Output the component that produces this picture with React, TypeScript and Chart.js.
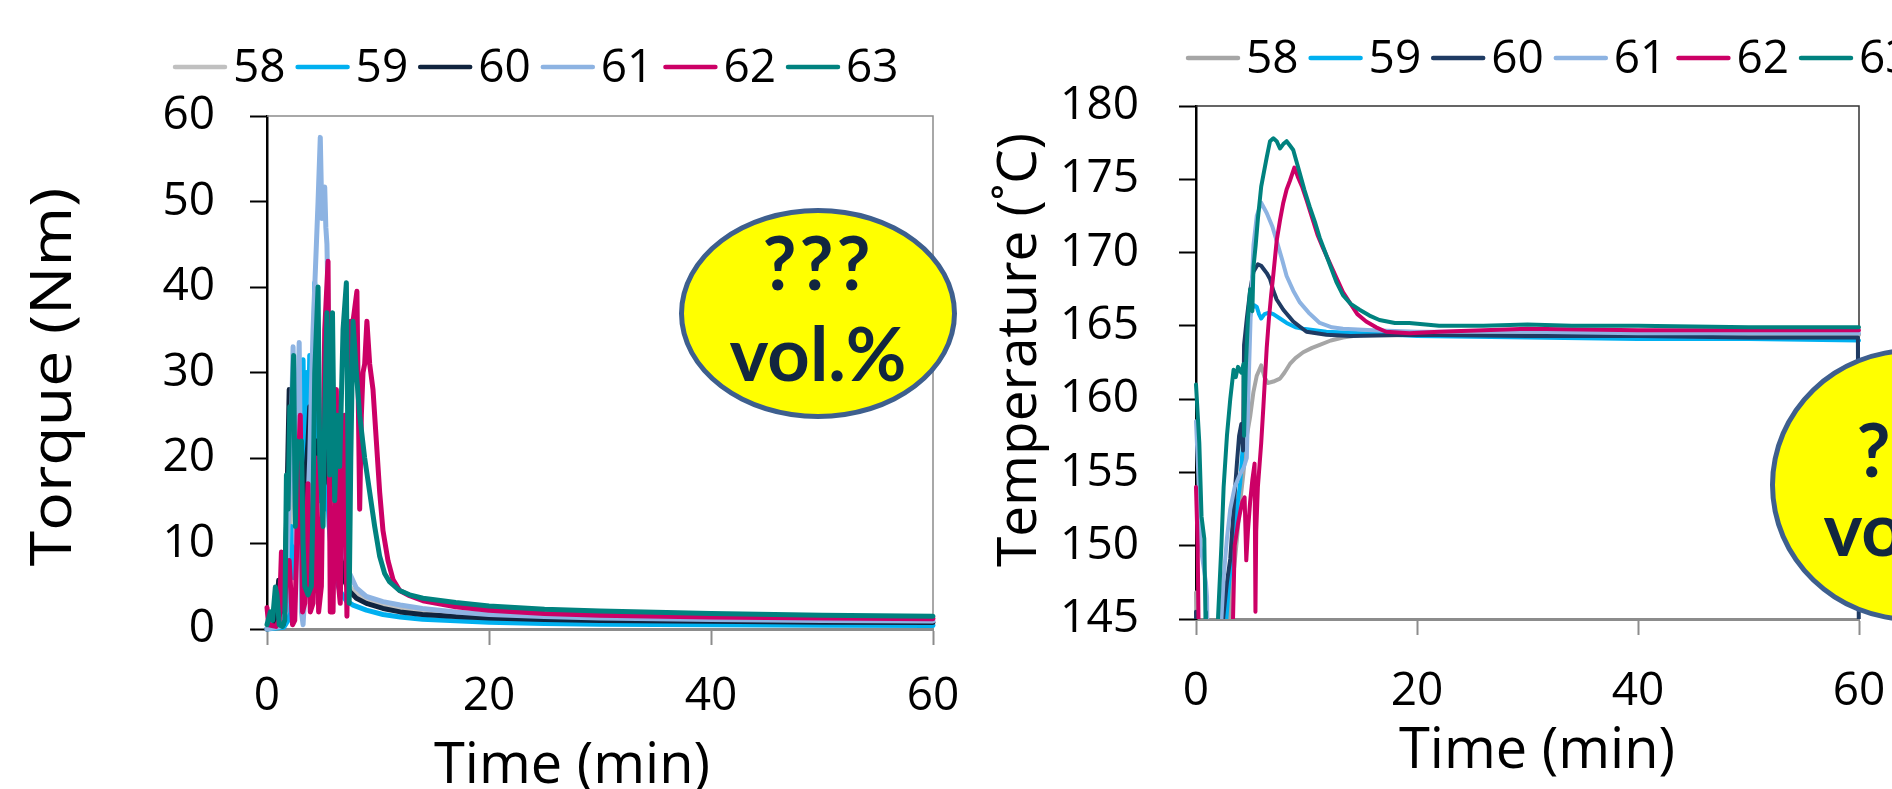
import React, { useEffect, useRef } from 'react';
import { Chart, registerables } from 'chart.js';

Chart.register(...registerables);

// ---------- data ----------
const seriesLabels = ['58', '59', '60', '61', '62', '63'];
const torqueColors = ['#c0c0c0', '#00b0f0', '#10243e', '#8db3e2', '#cc0066', '#00827f'];
const tempColors = ['#a6a6a6', '#00b0f0', '#1f3b63', '#8db3e2', '#cc0066', '#00827f'];

const timeTicks = [0, 20, 40, 60];
const torqueTicks = [0, 10, 20, 30, 40, 50, 60];
const tempTicks = [145, 150, 155, 160, 165, 170, 175, 180];

// Torque (Nm) vs time (min)
const torque58 = [[0,0],[0.9,0.3],[1.4,0.5],[1.8,4],[2.1,14],[2.4,21],[2.7,17],[3.0,20],[3.4,24],[3.8,27],[4.2,23],[4.6,25],[5.0,21],[5.5,18],[6.0,13],[6.4,9],[6.9,6.5],[7.4,5],[8.0,4.1],[9.0,3.3],[10.5,2.7],[12,2.3],[14,2.0],[17,1.6],[20,1.35],[25,1.15],[30,1.05],[40,0.9],[50,0.8],[60,0.75]];
const torque59 = [[0,0],[1.5,0.2],[1.9,1],[2.2,12],[2.4,6],[2.65,15],[2.95,28],[3.25,31.5],[3.4,12],[3.55,30],[3.7,20],[3.85,32],[4.0,31],[4.15,25],[4.3,40.5],[4.45,26],[4.7,15],[4.9,22],[5.15,14],[5.35,20],[5.6,12],[5.8,9],[6.1,6.5],[6.55,4.5],[7.15,3.3],[7.75,2.8],[8.95,2.2],[10.45,1.7],[12,1.4],[14,1.15],[17,0.95],[20,0.8],[25,0.65],[30,0.55],[40,0.5],[50,0.45],[60,0.4]];
const torque60 = [[0,0],[0.6,0.3],[0.95,4],[1.05,5.7],[1.15,1],[1.45,0.5],[1.75,12],[2.0,28],[2.2,27],[2.35,19],[2.5,24],[2.65,26],[2.8,20],[2.95,22],[3.2,14],[3.4,16.5],[3.7,22],[3.85,26],[4.0,21],[4.15,18],[4.45,22],[4.7,19],[4.9,21],[5.15,17],[5.35,22],[5.6,19],[5.8,18],[6.05,16],[6.25,14],[6.55,10],[6.85,6],[7.15,5.2],[7.45,4.4],[8.05,3.6],[8.95,3.0],[10.45,2.4],[12,2.0],[14,1.7],[17,1.45],[20,1.3],[25,1.1],[30,1.0],[40,0.9],[50,0.8],[60,0.75]];
const torque61 = [[0,0],[1.2,0.3],[1.7,2],[1.9,12],[2.1,18],[2.35,33],[2.5,20],[2.6,10],[2.75,25],[2.9,33.5],[3.0,20],[3.1,2],[3.25,0.5],[3.4,4],[3.55,10],[3.85,20],[4.0,28],[4.15,35],[4.3,40],[4.45,45],[4.6,50],[4.8,57.5],[4.95,48],[5.1,50],[5.2,51.7],[5.3,47],[5.4,45],[5.5,38],[5.65,30],[5.95,22],[6.25,18],[6.55,14],[6.85,10],[7.15,8],[7.45,6.5],[8.05,4.8],[8.95,3.8],[10.45,3.2],[12,2.8],[14,2.4],[17,2.0],[20,1.7],[25,1.45],[30,1.3],[40,1.1],[50,1.0],[60,0.95]];
const torque62 = [[0,2.5],[0.15,0.5],[0.8,0.3],[1.1,1],[1.3,9],[1.45,3],[1.6,2],[1.75,8],[1.9,7],[2.0,8],[2.3,0.5],[2.5,1],[2.65,8],[2.8,18],[3.0,25],[3.2,2],[3.4,3],[3.7,17],[3.9,2],[4.15,3],[4.45,20],[4.65,2],[4.9,5],[5.2,35],[5.5,43],[5.7,2],[5.95,2],[6.25,28],[6.45,5],[6.6,3],[6.8,20],[7.0,25],[7.2,1.5],[7.4,22],[7.55,36],[7.75,36],[8.1,39.5],[8.35,14],[8.5,25],[8.65,30],[8.8,31],[9.0,36],[9.25,31],[9.55,28],[9.85,22],[10.15,16],[10.45,11.5],[10.9,8],[11.35,5.8],[11.95,4.5],[12.85,3.9],[14.05,3.3],[17,2.6],[20,2.2],[25,1.8],[30,1.6],[40,1.4],[50,1.3],[60,1.2]];
const torque63 = [[0,0.5],[0.3,2],[0.5,1],[0.75,4.9],[0.9,4],[1.1,0.5],[1.4,0.3],[1.6,1],[1.75,18],[1.9,14],[2.05,26],[2.2,24],[2.4,32],[2.55,12],[2.7,22],[2.95,20],[3.1,22],[3.25,10],[3.4,5],[3.7,4],[4.0,5],[4.15,15],[4.3,30],[4.6,40],[4.75,20],[5.05,12],[5.2,25],[5.4,37],[5.55,25],[5.65,18],[5.9,37],[6.1,15],[6.3,25],[6.55,19],[6.85,35],[7.15,40.5],[7.3,20],[7.4,3],[7.55,20],[7.75,36],[8.05,30],[8.35,25],[8.8,20],[9.25,16],[9.7,12],[10.15,8.5],[10.6,6.5],[11.05,5.5],[11.95,4.5],[12.85,4],[14.05,3.6],[17,3.1],[20,2.7],[25,2.3],[30,2.1],[40,1.8],[50,1.6],[60,1.5]];

// Temperature (deg C) vs time (min); values below 145 lie off the axis
const temp58 = [[0,146.8],[0.1,140],[2.9,140],[3.05,145],[3.2,147.6],[3.45,148.5],[3.7,150.4],[4.0,153],[4.3,155],[4.6,157.5],[4.9,158.8],[5.2,160.5],[5.5,161.6],[5.9,162.3],[6.2,161.5],[6.5,161.1],[7.0,161.2],[7.6,161.4],[8.0,161.8],[8.5,162.4],[9.0,162.8],[9.7,163.2],[10.5,163.5],[11.2,163.7],[12.2,164.0],[13.3,164.2],[15,164.4],[18,164.5],[20,164.5],[30,164.5],[40,164.5],[60,164.4]];
const temp59 = [[0,145],[0.1,140],[2.6,140],[2.75,145],[3.0,147.5],[3.4,150.4],[3.7,152.5],[4.0,154.3],[4.3,157.5],[4.6,163.5],[4.8,165.2],[5.0,166.1],[5.3,166.4],[5.5,166.3],[5.7,165.8],[5.9,165.5],[6.2,165.8],[6.6,165.9],[7.0,165.8],[7.6,165.5],[8.2,165.2],[9.0,164.9],[9.7,164.8],[11.8,164.6],[15,164.5],[20,164.3],[30,164.2],[40,164.1],[50,164.1],[60,164.0]];
const temp60 = [[0,145.5],[0.1,140],[2.3,140],[2.45,145],[2.8,147.5],[3.1,149.1],[3.4,152.5],[3.7,155.6],[3.9,157.5],[4.1,158.3],[4.25,156.5],[4.35,163.7],[4.6,165.5],[4.9,167.4],[5.2,168.7],[5.6,169.2],[5.9,169.1],[6.1,168.9],[6.4,168.6],[6.7,168.2],[7.0,167.4],[7.3,166.8],[7.9,166.1],[8.8,165.3],[10,164.6],[11.8,164.4],[14,164.3],[20,164.4],[30,164.3],[40,164.3],[50,164.2],[59.9,164.2],[60,140]];
const temp61 = [[0,158.5],[0.2,155],[0.4,150],[0.9,147.5],[1.0,146.5],[1.1,140],[2.2,140],[2.3,145],[2.5,147.8],[2.8,150.5],[3.1,152.5],[3.5,154],[4.0,154.9],[4.3,155.3],[4.6,156],[4.8,162],[5.0,167],[5.2,170.5],[5.5,172.5],[5.9,173.4],[6.4,172.7],[6.9,171.8],[7.3,170.8],[7.8,169.5],[8.2,168.4],[8.8,167.4],[9.4,166.6],[10.2,165.9],[11.2,165.2],[12.3,164.9],[13.3,164.8],[16,164.7],[20,164.6],[30,164.6],[40,164.5],[60,164.5]];
const temp62 = [[0,154],[0.15,150],[0.3,140],[3.2,140],[3.35,145],[3.5,150],[3.8,151.5],[4.0,152.3],[4.2,153],[4.4,153.3],[4.55,149],[4.7,151],[4.9,153],[5.1,154.5],[5.3,155.6],[5.38,145.5],[5.45,151],[5.6,154],[5.9,157],[6.1,159.5],[6.4,163.5],[6.6,165.5],[6.8,167.1],[7.0,168.5],[7.3,170.8],[7.6,172.2],[7.9,173.4],[8.2,174.3],[8.5,174.9],[8.9,175.8],[9.2,175.2],[9.6,174.5],[10.0,173.6],[10.5,172.4],[11.0,171.2],[11.5,170.3],[12.1,169.3],[12.7,168.3],[13.3,167.3],[13.9,166.6],[14.6,165.8],[15.4,165.3],[16.3,164.9],[17.2,164.6],[19.3,164.5],[22,164.6],[26,164.7],[30,164.8],[40,164.7],[50,164.7],[60,164.7]];
const temp63 = [[0,161],[0.3,157],[0.5,152],[0.75,150.5],[0.85,145.5],[0.9,140],[1.9,140],[2.0,145.2],[2.3,150],[2.5,154],[2.8,157.5],[3.1,160],[3.4,162],[3.6,161.5],[3.8,162.2],[4.1,161.8],[4.3,162.4],[4.35,157.5],[4.5,162],[4.7,165.5],[4.9,167.5],[5.1,166],[5.2,169],[5.4,170.5],[5.6,172.3],[5.9,174.5],[6.1,175.3],[6.4,176.5],[6.7,177.6],[7.0,177.8],[7.3,177.6],[7.6,177.1],[7.9,177.4],[8.2,177.6],[8.5,177.3],[8.8,177],[9.1,176.2],[9.4,175.4],[9.8,174.3],[10.3,173.1],[10.8,172],[11.2,171],[11.7,170],[12.1,169.2],[12.7,168],[13.3,167.1],[14,166.5],[14.8,166.1],[15.7,165.7],[16.6,165.4],[18,165.2],[19.3,165.2],[22,165.0],[26,165.0],[30,165.1],[34,165.0],[40,165.0],[50,164.9],[60,164.9]];

const torqueSeries = [torque58, torque59, torque60, torque61, torque62, torque63];
const tempSeries = [temp58, temp59, temp60, temp61, temp62, temp63];

const FONT = '"Open Sans", "DejaVu Sans", sans-serif';

type Title = { text: string; x: number; y: number; rotate?: boolean; size: number; stretch?: number };

function makeDecor(cfg: {
  frameColor: string;
  frameWidth: number;
  legendX: number;
  legendY: number;
  titles: Title[];
}) {
  return {
    id: 'decor',
    beforeDatasetsDraw(chart: any) {
      const { ctx, chartArea: a } = chart;
      ctx.save();
      ctx.strokeStyle = cfg.frameColor;
      ctx.lineWidth = cfg.frameWidth;
      ctx.beginPath();
      ctx.moveTo(a.left, a.top);
      ctx.lineTo(a.right, a.top);
      ctx.lineTo(a.right, a.bottom);
      ctx.stroke();
      ctx.restore();
    },
    afterDraw(chart: any) {
      const ctx = chart.ctx;
      ctx.save();
      // legend
      ctx.font = `46px ${FONT}`;
      ctx.textBaseline = 'middle';
      ctx.textAlign = 'left';
      let x = cfg.legendX;
      const y = cfg.legendY;
      chart.data.datasets.forEach((ds: any) => {
        ctx.strokeStyle = ds.borderColor;
        ctx.lineWidth = 4.5;
        ctx.lineCap = 'round';
        ctx.beginPath();
        ctx.moveTo(x + 2, y);
        ctx.lineTo(x + 52, y);
        ctx.stroke();
        x += 60;
        ctx.fillStyle = '#000';
        ctx.fillText(ds.label, x, y + 2);
        x += ctx.measureText(ds.label).width + 10;
      });
      // axis titles
      cfg.titles.forEach((t) => {
        ctx.save();
        ctx.font = `${t.size}px ${FONT}`;
        ctx.fillStyle = '#000';
        ctx.textAlign = 'center';
        ctx.textBaseline = 'middle';
        ctx.translate(t.x, t.y);
        if (t.rotate) ctx.rotate(-Math.PI / 2);
        if (t.stretch) ctx.scale(t.stretch, 1);
        ctx.fillText(t.text, 0, 0);
        ctx.restore();
      });
      ctx.restore();
    },
  };
}

function buildConfig(p: {
  series: number[][][];
  colors: string[];
  lineWidth: number;
  yMin: number;
  yMax: number;
  yTicks: number[];
  yWidth: number;
  xHeight: number;
  padTop: number;
  padRight: number;
  yPad: number;
  xPad: number;
  clip: any;
  decor: any;
}) {
  const n = p.series.length;
  return {
    type: 'line',
    data: {
      datasets: p.series.map((s, i) => ({
        label: seriesLabels[i],
        data: s,
        borderColor: p.colors[i],
        backgroundColor: p.colors[i],
        borderWidth: p.lineWidth,
        pointRadius: 0,
        tension: 0,
        borderJoinStyle: 'round',
        borderCapStyle: 'round',
        order: n - 1 - i,
        clip: p.clip,
      })),
    },
    options: {
      responsive: false,
      animation: false,
      devicePixelRatio: 1,
      layout: { padding: { top: p.padTop, right: p.padRight, left: 0, bottom: 0 } },
      plugins: { legend: { display: false }, tooltip: { enabled: false } },
      scales: {
        x: {
          type: 'linear',
          min: 0,
          max: 60,
          afterBuildTicks: (s: any) => {
            s.ticks = timeTicks.map((v) => ({ value: v }));
          },
          afterFit: (s: any) => {
            s.height = p.xHeight;
            s.paddingLeft = 0;
            s.paddingRight = 0;
          },
          grid: { drawOnChartArea: false, tickLength: 16, color: '#8c8c8c', tickWidth: 2 },
          border: { color: '#8c8c8c', width: 3 },
          ticks: { font: { family: FONT, size: 46 }, color: '#000', padding: p.xPad, maxRotation: 0, autoSkip: false },
        },
        y: {
          type: 'linear',
          min: p.yMin,
          max: p.yMax,
          afterBuildTicks: (s: any) => {
            s.ticks = p.yTicks.map((v) => ({ value: v }));
          },
          afterFit: (s: any) => {
            s.width = p.yWidth;
            s.paddingTop = 0;
            s.paddingBottom = 0;
          },
          grid: { drawOnChartArea: false, tickLength: 17, color: '#000', tickWidth: 2 },
          border: { color: '#000', width: 2.5 },
          ticks: { font: { family: FONT, size: 46 }, color: '#000', padding: p.yPad, autoSkip: false },
        },
      },
    },
    plugins: [p.decor],
  } as any;
}

function Badge({ left, top, width, height, q, v }: { left: number; top: number; width: number; height: number; q: number; v: number }) {
  return (
    <div
      style={{
        position: 'absolute',
        left,
        top,
        width,
        height,
        boxSizing: 'border-box',
        borderRadius: '50%',
        border: '5px solid #3e5f8e',
        background: '#ffff00',
        color: '#12263f',
        fontFamily: 'Lato, "Open Sans", sans-serif',
        fontWeight: 700,
        fontSize: 74,
        lineHeight: '74px',
      }}
    >
      <div style={{ position: 'absolute', left: 0, width: '100%', top: q, textAlign: 'center', letterSpacing: 3 }}>???</div>
      <div style={{ position: 'absolute', left: 0, width: '100%', top: v, textAlign: 'center' }}>vol.%</div>
    </div>
  );
}

export default function App() {
  const leftRef = useRef<HTMLCanvasElement>(null);
  const rightRef = useRef<HTMLCanvasElement>(null);

  useEffect(() => {
    const c1 = new Chart(
      leftRef.current!,
      buildConfig({
        series: torqueSeries,
        colors: torqueColors,
        lineWidth: 5,
        yMin: 0,
        yMax: 60,
        yTicks: torqueTicks,
        yWidth: 267,
        xHeight: 160,
        padTop: 116,
        padRight: 27,
        yPad: 35,
        xPad: 24,
        clip: { left: 3, right: 3, top: 3, bottom: 3 },
        decor: makeDecor({
          frameColor: '#8c8c8c',
          frameWidth: 1.5,
          legendX: 173,
          legendY: 67,
          titles: [
            { text: 'Time (min)', x: 572, y: 767, size: 56 },
            { text: 'Torque (Nm)', x: 55, y: 377, rotate: true, size: 57, stretch: 1.13 },
          ],
        }),
      })
    );
    const c2 = new Chart(
      rightRef.current!,
      buildConfig({
        series: tempSeries,
        colors: tempColors,
        lineWidth: 4,
        yMin: 145,
        yMax: 180,
        yTicks: tempTicks,
        yWidth: 236,
        xHeight: 170,
        padTop: 106,
        padRight: 33,
        yPad: 40,
        xPad: 29,
        clip: { left: 3, right: 3, top: 0, bottom: 0 },
        decor: makeDecor({
          frameColor: '#333333',
          frameWidth: 1.5,
          legendX: 226,
          legendY: 58,
          titles: [
            { text: 'Time (min)', x: 577, y: 752, size: 56 },
            { text: 'Temperature (\u02DAC)', x: 60, y: 350, rotate: true, size: 55 },
          ],
        }),
      })
    );
    return () => {
      c1.destroy();
      c2.destroy();
    };
  }, []);

  return (
    <div
      style={{
        position: 'fixed',
        left: 0,
        top: 0,
        width: 1892,
        height: 789,
        overflow: 'hidden',
        background: '#fff',
      }}
    >
      <canvas
        ref={leftRef}
        width={960}
        height={789}
        style={{ position: 'absolute', left: 0, top: 0, width: 960, height: 789 }}
      />
      <canvas
        ref={rightRef}
        width={932}
        height={789}
        style={{ position: 'absolute', left: 960, top: 0, width: 932, height: 789 }}
      />
      <Badge left={679} top={208} width={278} height={211} q={12} v={103} />
      <Badge left={1770} top={348} width={284} height={274} q={59} v={138} />
    </div>
  );
}
